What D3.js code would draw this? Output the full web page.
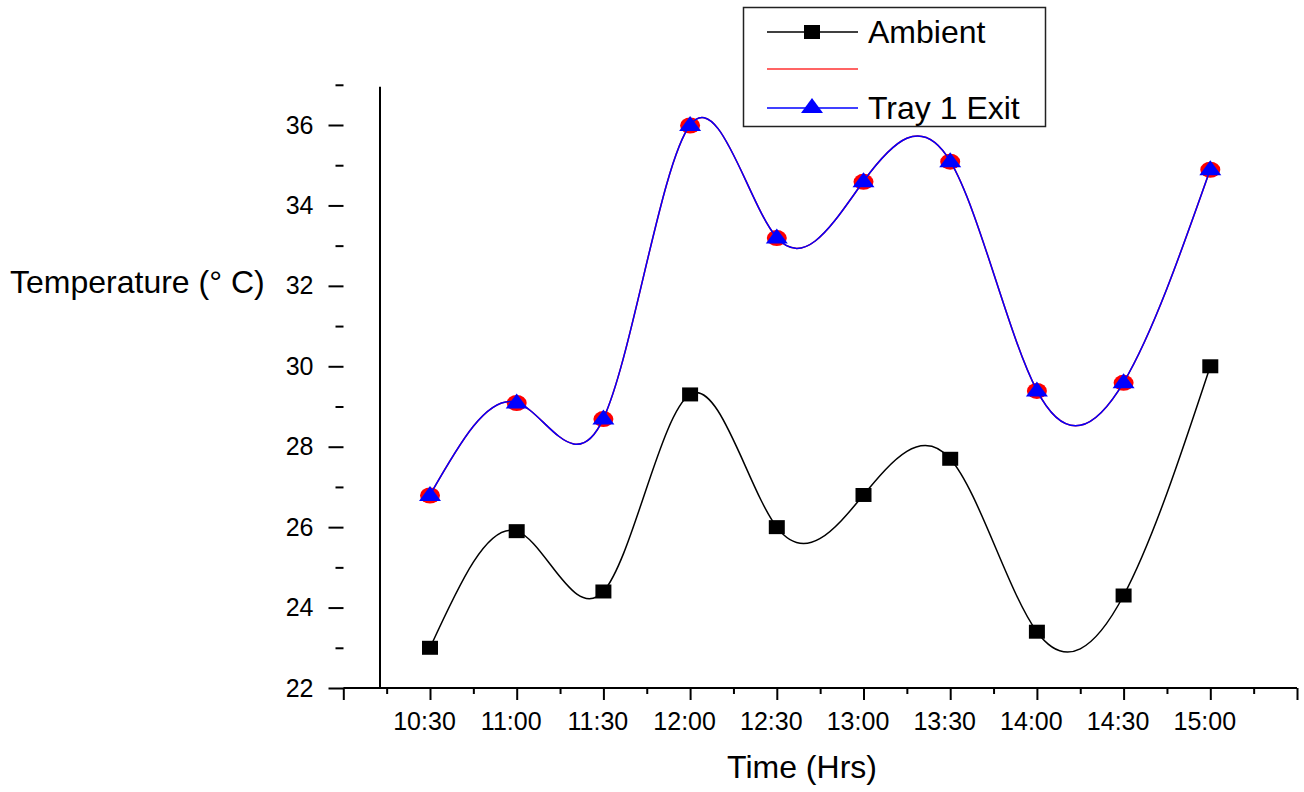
<!DOCTYPE html>
<html>
<head>
<meta charset="utf-8">
<script src="https://cdn.jsdelivr.net/npm/d3@7"></script>
<style>
  html, body { margin: 0; padding: 0; background: #fff; }
  svg { display: block; font-family: "Liberation Sans", Arial, sans-serif; }
</style>
</head>
<body>
<svg id="chart" width="1304" height="792"></svg>
<script>
// ---- data ----
const times = ["10:30", "11:00", "11:30", "12:00", "12:30", "13:00", "13:30", "14:00", "14:30", "15:00"];
const ambient = [23.0, 25.9, 24.4, 29.3, 26.0, 26.8, 27.7, 23.4, 24.3, 30.0];
const hidden = [26.8, 29.1, 28.7, 36.0, 33.2, 34.6, 35.1, 29.4, 29.6, 34.9];
const tray1Exit = [26.8, 29.1, 28.7, 36.0, 33.2, 34.6, 35.1, 29.4, 29.6, 34.9];
const yMajorTicks = [22, 24, 26, 28, 30, 32, 34, 36];
const yMinorTicks = [23, 25, 27, 29, 31, 33, 35, 37];
const legendLabels = ["Ambient", "", "Tray 1 Exit"];

const toMin = s => { const [h, m] = s.split(":").map(Number); return h * 60 + m; };

const svg = d3.select("#chart");
const x = d3.scaleLinear().domain([600, 930]).range([343.3, 1297]);
const y = d3.scaleLinear().domain([22, 36]).range([688, 125]);

// ---- y axis (ticks only) ----
const yMajor = svg.append("g").attr("transform", "translate(343.5,0)")
  .call(d3.axisLeft(y).tickValues(yMajorTicks).tickSize(15).tickPadding(15).tickFormat(d3.format("d")));
yMajor.select(".domain").remove();
yMajor.selectAll(".tick line").attr("stroke", "#000").attr("stroke-width", 2);
yMajor.selectAll(".tick text").attr("font-size", 25).attr("fill", "#000")
  .attr("font-family", "Liberation Sans, Arial, sans-serif");

const yMinor = svg.append("g").attr("transform", "translate(343.5,0)")
  .call(d3.axisLeft(d3.scaleLinear().domain([22, 37]).range([688, y(37)])).tickValues(yMinorTicks).tickSize(8).tickFormat(""));
yMinor.select(".domain").remove();
yMinor.selectAll(".tick line").attr("stroke", "#000").attr("stroke-width", 2);

// ---- x axis ----
const xMajorVals = d3.range(600, 931, 30);
const xMinorVals = d3.range(615, 931, 30);
const xMajor = svg.append("g").attr("transform", "translate(0,688)")
  .call(d3.axisBottom(x).tickValues(xMajorVals).tickSize(12).tickPadding(12)
    .tickFormat(d => { const s = String(Math.floor(d / 60)) + ":" + String(d % 60).padStart(2, "0"); return times.includes(s) ? s : ""; }));
xMajor.select(".domain").attr("stroke", "#000").attr("stroke-width", 2).attr("d", `M${x(600)},0H${x(930)}`);
xMajor.selectAll(".tick line").attr("stroke", "#000").attr("stroke-width", 2);
xMajor.selectAll(".tick text").attr("font-size", 25).attr("fill", "#000").attr("dx", -6)
  .attr("font-family", "Liberation Sans, Arial, sans-serif");

const xMinor = svg.append("g").attr("transform", "translate(0,688)")
  .call(d3.axisBottom(x).tickValues(xMinorVals).tickSize(6).tickFormat(""));
xMinor.select(".domain").remove();
xMinor.selectAll(".tick line").attr("stroke", "#000").attr("stroke-width", 2);

// vertical line
svg.append("line").attr("x1", 380).attr("x2", 380).attr("y1", y(36.95)).attr("y2", 688)
  .attr("stroke", "#000").attr("stroke-width", 2);

// ---- axis titles ----
svg.append("text").attr("x", 802).attr("y", 778).attr("text-anchor", "middle")
  .attr("font-size", 32).text("Time (Hrs)");
svg.append("text").attr("x", 10).attr("y", 293).attr("text-anchor", "start")
  .attr("font-size", 32).text("Temperature (° C)");

// ---- series ----
const curve = d3.curveNatural;
const mk = vals => vals.map((v, i) => ({ t: toMin(times[i]), v }));
const line = d3.line().x(d => x(d.t)).y(d => y(d.v)).curve(curve);

const sqPath = (w, h) => `M${-w/2},${-h/2}h${w}v${h}h${-w}Z`;
const triPath = `M0,-9L11,6L-11,6Z`;

// Ambient
svg.append("path").datum(mk(ambient)).attr("d", line).attr("fill", "none").attr("stroke", "#000").attr("stroke-width", 1.5);
svg.append("g").selectAll("path").data(mk(ambient)).join("path")
  .attr("transform", d => `translate(${x(d.t)},${y(d.v)})`).attr("d", sqPath(16, 14)).attr("fill", "#000");

// red (hidden) series
svg.append("path").datum(mk(hidden)).attr("d", line).attr("fill", "none").attr("stroke", "#ff0000").attr("stroke-width", 1.5);
svg.append("g").selectAll("ellipse").data(mk(hidden)).join("ellipse")
  .attr("cx", d => x(d.t)).attr("cy", d => y(d.v) + 0.5).attr("rx", 10).attr("ry", 8).attr("fill", "#ff0000");

// blue
svg.append("path").datum(mk(tray1Exit)).attr("d", line).attr("fill", "none").attr("stroke", "#0000ff").attr("stroke-width", 1.5);
svg.append("g").selectAll("path").data(mk(tray1Exit)).join("path")
  .attr("transform", d => `translate(${x(d.t)},${y(d.v)})`).attr("d", triPath).attr("fill", "#0000ff");

// ---- legend ----
const lg = svg.append("g");
lg.append("rect").attr("x", 743.5).attr("y", 7.5).attr("width", 302).attr("height", 119)
  .attr("fill", "#fff").attr("stroke", "#222").attr("stroke-width", 1.5);
const rowsY = [32, 69, 108];
const lColors = ["#000", "#ff3030", "#0000ff"];
legendLabels.forEach((lab, i) => {
  lg.append("line").attr("x1", 767).attr("x2", 858).attr("y1", rowsY[i]).attr("y2", rowsY[i])
    .attr("stroke", lColors[i]).attr("stroke-width", 1.5);
  if (i === 0) lg.append("path").attr("transform", `translate(812,${rowsY[i]})`).attr("d", sqPath(16, 14)).attr("fill", "#000");
  if (i === 2) lg.append("path").attr("transform", `translate(812,${rowsY[i] - 1})`).attr("d", triPath).attr("fill", "#0000ff");
  if (lab) lg.append("text").attr("x", 868).attr("y", rowsY[i] + 11).attr("font-size", 32).text(lab);
});
</script>
</body>
</html>
